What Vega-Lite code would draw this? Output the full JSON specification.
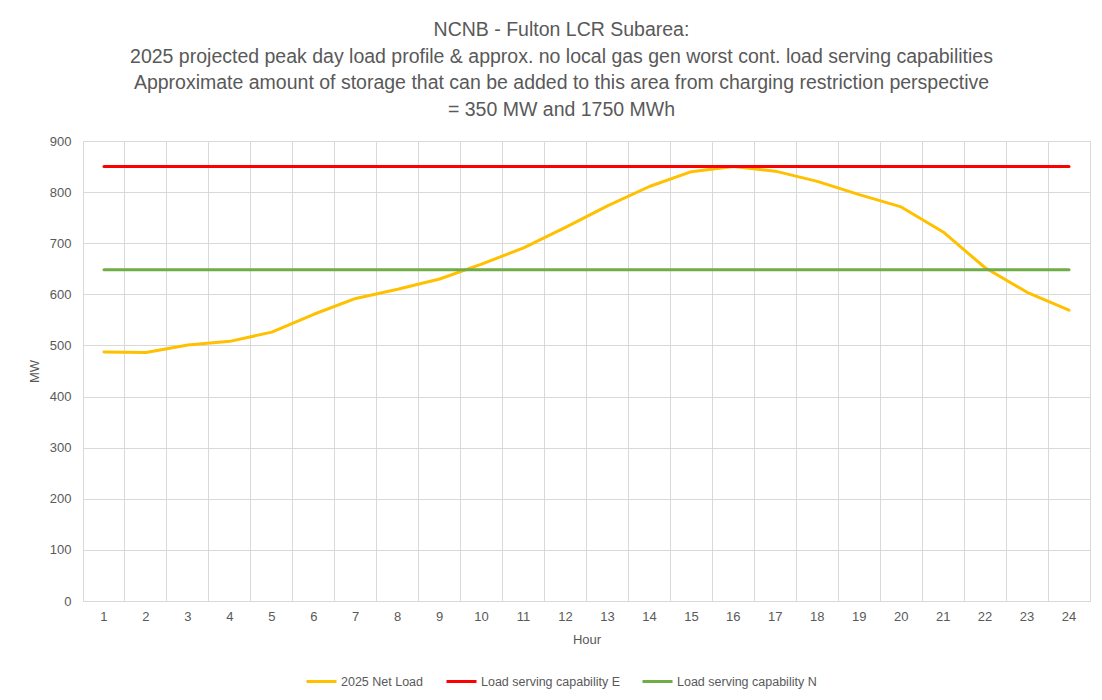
{
  "$schema": "https://vega.github.io/schema/vega-lite/v6.json",
  "width": 1007,
  "height": 460,
  "autosize": {"type": "none"},
  "padding": {"left": 83, "top": 141, "right": 12, "bottom": 99},
  "background": "white",
  "title": {
    "text": ["NCNB - Fulton LCR Subarea:", "2025 projected peak day load profile & approx. no local gas gen worst cont. load serving capabilities", "Approximate amount of storage that can be added to this area from charging restriction perspective", "= 350 MW and 1750 MWh"],
    "font": "Liberation Sans",
    "fontSize": 19.5,
    "fontWeight": "normal",
    "color": "#595959",
    "lineHeight": 26.5,
    "anchor": "middle",
    "dx": -25,
    "offset": 15
  },
  "data": {
    "values": [
      {"Hour": 1, "2025 Net Load": 487, "Load serving capability E": 850, "Load serving capability N": 648},
      {"Hour": 2, "2025 Net Load": 486, "Load serving capability E": 850, "Load serving capability N": 648},
      {"Hour": 3, "2025 Net Load": 501, "Load serving capability E": 850, "Load serving capability N": 648},
      {"Hour": 4, "2025 Net Load": 508, "Load serving capability E": 850, "Load serving capability N": 648},
      {"Hour": 5, "2025 Net Load": 526, "Load serving capability E": 850, "Load serving capability N": 648},
      {"Hour": 6, "2025 Net Load": 561, "Load serving capability E": 850, "Load serving capability N": 648},
      {"Hour": 7, "2025 Net Load": 592, "Load serving capability E": 850, "Load serving capability N": 648},
      {"Hour": 8, "2025 Net Load": 610, "Load serving capability E": 850, "Load serving capability N": 648},
      {"Hour": 9, "2025 Net Load": 630, "Load serving capability E": 850, "Load serving capability N": 648},
      {"Hour": 10, "2025 Net Load": 659, "Load serving capability E": 850, "Load serving capability N": 648},
      {"Hour": 11, "2025 Net Load": 691, "Load serving capability E": 850, "Load serving capability N": 648},
      {"Hour": 12, "2025 Net Load": 731, "Load serving capability E": 850, "Load serving capability N": 648},
      {"Hour": 13, "2025 Net Load": 773, "Load serving capability E": 850, "Load serving capability N": 648},
      {"Hour": 14, "2025 Net Load": 811, "Load serving capability E": 850, "Load serving capability N": 648},
      {"Hour": 15, "2025 Net Load": 840, "Load serving capability E": 850, "Load serving capability N": 648},
      {"Hour": 16, "2025 Net Load": 850, "Load serving capability E": 850, "Load serving capability N": 648},
      {"Hour": 17, "2025 Net Load": 841, "Load serving capability E": 850, "Load serving capability N": 648},
      {"Hour": 18, "2025 Net Load": 821, "Load serving capability E": 850, "Load serving capability N": 648},
      {"Hour": 19, "2025 Net Load": 795, "Load serving capability E": 850, "Load serving capability N": 648},
      {"Hour": 20, "2025 Net Load": 771, "Load serving capability E": 850, "Load serving capability N": 648},
      {"Hour": 21, "2025 Net Load": 722, "Load serving capability E": 850, "Load serving capability N": 648},
      {"Hour": 22, "2025 Net Load": 652, "Load serving capability E": 850, "Load serving capability N": 648},
      {"Hour": 23, "2025 Net Load": 604, "Load serving capability E": 850, "Load serving capability N": 648},
      {"Hour": 24, "2025 Net Load": 569, "Load serving capability E": 850, "Load serving capability N": 648}
    ]
  },
  "transform": [
    {"fold": ["2025 Net Load", "Load serving capability E", "Load serving capability N"], "as": ["Series", "MW"]}
  ],
  "mark": {"type": "line", "strokeWidth": 3, "strokeCap": "round", "strokeJoin": "round"},
  "encoding": {
    "x": {
      "field": "Hour",
      "type": "ordinal",
      "bandPosition": 0.5,
      "scale": {"type": "band", "paddingInner": 0, "paddingOuter": 0},
      "axis": {
        "title": "Hour",
        "bandPosition": 0,
        "labelAngle": 0,
        "grid": true,
        "ticks": false,
        "domain": true,
        "domainColor": "#d9d9d9",
        "gridColor": "#d9d9d9",
        "labelPadding": 9,
        "titlePadding": 10
      }
    },
    "y": {
      "field": "MW",
      "type": "quantitative",
      "scale": {"domain": [0, 900]},
      "axis": {
        "title": "MW",
        "values": [0, 100, 200, 300, 400, 500, 600, 700, 800, 900],
        "grid": true,
        "ticks": false,
        "domain": false,
        "gridColor": "#d9d9d9",
        "labelPadding": 12,
        "titlePadding": 8
      }
    },
    "color": {
      "field": "Series",
      "type": "nominal",
      "scale": {
        "domain": ["2025 Net Load", "Load serving capability E", "Load serving capability N"],
        "range": ["#FFC000", "#FF0000", "#70AD47"]
      },
      "legend": {
        "title": null,
        "orient": "none",
        "direction": "horizontal",
        "legendX": 222,
        "legendY": 524,
        "symbolType": "stroke",
        "symbolSize": 900,
        "symbolStrokeWidth": 3,
        "labelOffset": 3,
        "columnPadding": 16
      }
    }
  },
  "config": {
    "view": {"stroke": "#d9d9d9"},
    "axis": {
      "labelFont": "Liberation Sans",
      "titleFont": "Liberation Sans",
      "labelFontSize": 13,
      "titleFontSize": 13,
      "titleFontWeight": "normal",
      "labelColor": "#595959",
      "titleColor": "#595959"
    },
    "legend": {
      "labelFont": "Liberation Sans",
      "labelFontSize": 12.5,
      "labelColor": "#595959"
    }
  }
}
